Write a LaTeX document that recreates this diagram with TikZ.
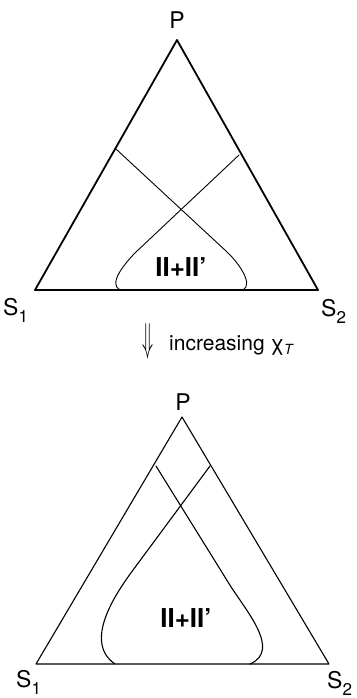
\documentclass[tikz,border=0pt]{standalone}
\usepackage{fontspec}
\setmainfont{TeX Gyre Heros}
\usepackage{graphicx}
\newcommand{\lowsub}[1]{\raisebox{-7pt}{\fontsize{17}{17}\selectfont #1}}

\begin{document}
\begin{tikzpicture}[x=1pt, y=-1pt, line cap=round, line join=round,
  lab/.style={font=\fontsize{23}{23}\selectfont, inner sep=0pt},
  phase/.style={font=\fontsize{26}{26}\selectfont\bfseries, inner sep=0pt}]
  \useasboundingbox (0,0) rectangle (356,698);

  % upper triangle
  \coordinate (Pa) at (177,40);
  \coordinate (Aa) at (35,290);
  \coordinate (Ba) at (318,290);

  \coordinate (la) at (116,149);
  \coordinate (lb) at (226,251);
  \coordinate (le) at (243,290);
  \coordinate (ra) at (239,155);
  \coordinate (rb) at (136,252);
  \coordinate (re) at (120,290);

  \draw[line width=1.8pt] (Aa)--(Ba)--(Pa)--cycle; % outer triangle
  \draw[line width=0.9pt] (la)--(lb) .. controls (238,262) and (254,284) .. (le);
  \draw[line width=0.9pt] (ra)--(rb) .. controls (124,264) and (108,284) .. (re);

  \node[lab, anchor=base] (topP) at (177,29) {P};
  \node[lab, anchor=base west] (topS1) at (3,315) {S\lowsub{1}};
  \node[lab, anchor=base west] (topS2) at (321,316) {S\lowsub{2}};
  \node[phase, anchor=base] (topII) at (181,276) {II+II’};

  % arrow between the two
  \node[inner sep=0pt] (arr) at (147.5,341) {\resizebox{11pt}{28pt}{$\Downarrow$}};
  \node[font=\fontsize{21}{21}\selectfont, inner sep=0pt, anchor=base west] (incr) at (169,350)
    {increasing χ\raisebox{-4pt}{\fontsize{14}{14}\selectfont\itshape T}};

  % lower triangle
  \coordinate (Pb) at (182,417);
  \coordinate (Ab) at (36,664);
  \coordinate (Bb) at (329,664);

  \coordinate (ma) at (156,466);
  \coordinate (mb) at (228,582);
  \coordinate (me) at (250,664);
  \coordinate (na) at (210,466);
  \coordinate (nb) at (136,566);
  \coordinate (ne) at (115,664);

  \draw[line width=1.1pt] (Ab)--(Bb)--(Pb)--cycle; % outer triangle
  \draw[line width=1.1pt] (ma)--(mb) .. controls (245,610) and (282,650) .. (me);
  \draw[line width=1.1pt] (na)--(nb) .. controls (122,585) and (80,640) .. (ne);

  \node[lab, anchor=base] (botP) at (183,410) {P};
  \node[lab, anchor=base west] (botS1) at (16,687) {S\lowsub{1}};
  \node[lab, anchor=base west] (botS2) at (327,688) {S\lowsub{2}};
  \node[phase, anchor=base] (botII) at (186,627) {II+II’};
\end{tikzpicture}
\end{document}
